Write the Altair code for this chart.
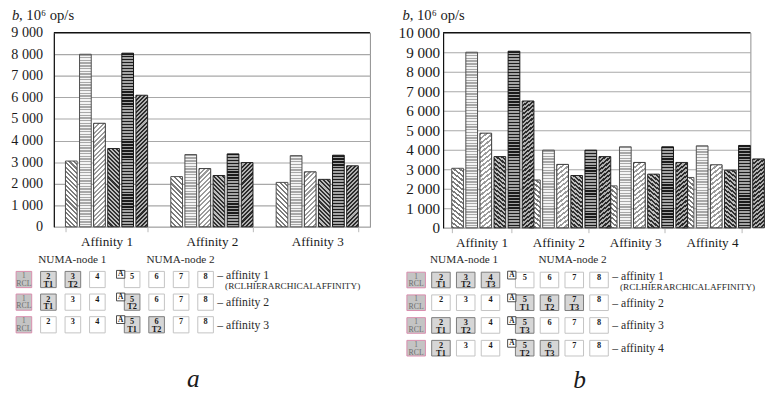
import math
import altair as alt
import pandas as pd

SERIF = "Liberation Serif, serif"
INK = "#1a1a1a"

# ---------------- panel a: bar data ----------------
cats_a = ["Affinity 1", "Affinity 2", "Affinity 3"]
s1_a = [3050, 2330, 2060]
s2_a = [8000, 3350, 3300]
s3_a = [4800, 2700, 2550]
s4_a = [3630, 2380, 2200]
s5_a = [8050, 3380, 3320]
s6_a = [6100, 2980, 2830]
yticks_a = [0, 1000, 2000, 3000, 4000, 5000, 6000, 7000, 8000, 9000]

# ---------------- panel b: bar data ----------------
cats_b = ["Affinity 1", "Affinity 2", "Affinity 3", "Affinity 4"]
s1_b = [3050, 2450, 2150, 2580]
s2_b = [9000, 3980, 4150, 4200]
s3_b = [4850, 3250, 3350, 3230]
s4_b = [3650, 2680, 2750, 2950]
s5_b = [9050, 3980, 4150, 4220]
s6_b = [6500, 3650, 3350, 3530]
yticks_b = [0, 1000, 2000, 3000, 4000, 5000, 6000, 7000, 8000, 9000, 10000]

series_names = ["s1", "s2", "s3", "s4", "s5", "s6"]

# ---------------- NUMA diagrams ----------------
cpus = [1, 2, 3, 4, 5, 6, 7, 8]
cpu_node = [1, 1, 1, 1, 2, 2, 2, 2]
node_titles = ["NUMA-node 1", "NUMA-node 2"]

threads_a1 = ["RCL", "T1", "T2", "", "", "", "", ""]
threads_a2 = ["RCL", "T1", "", "", "T2", "", "", ""]
threads_a3 = ["RCL", "", "", "", "T1", "T2", "", ""]
a_marker_a = [5, 5, 5]
labels_a = ["– affinity 1", "– affinity 2", "– affinity 3"]

threads_b1 = ["RCL", "T1", "T2", "T3", "", "", "", ""]
threads_b2 = ["RCL", "", "", "", "T1", "T2", "T3", ""]
threads_b3 = ["RCL", "T1", "T2", "", "T3", "", "", ""]
threads_b4 = ["RCL", "T1", "", "", "T2", "T3", "", ""]
a_marker_b = [5, 5, 5, 5]
labels_b = ["– affinity 1", "– affinity 2", "– affinity 3", "– affinity 4"]

affinity1_note = "(RCLHIERARCHICALAFFINITY)"
y_unit = ", 10⁶ op/s"

# ---------------- styles ----------------
PATTERNS = {
    "s1": dict(kind="back", bg="#ffffff", fg="#7c7c7c", period=3.4, duty=0.45, stroke="#4d4d4d"),
    "s2": dict(kind="horiz", bg="#f3f3f3", fg="#a8a8a8", period=2.8, duty=0.5, stroke="#4d4d4d"),
    "s3": dict(kind="fwd", bg="#ffffff", fg="#9c9c9c", period=3.4, duty=0.45, stroke="#333333"),
    "s4": dict(kind="back", bg="#bdbdbd", fg="#323232", period=3.0, duty=0.5, stroke="#222222"),
    "s5": dict(kind="horiz", bg="#a4a4a4", fg="#1c1c1c", period=3.0, duty=0.45, stroke="#111111"),
    "s6": dict(kind="fwd", bg="#b0b0b0", fg="#2b2b2b", period=3.0, duty=0.5, stroke="#222222"),
}


def make_gradient(p, w, h):
    if p["kind"] == "horiz":
        n = max(1, round(h / p["period"]))
        coords = dict(x1=0, y1=0, x2=0, y2=1)
    else:
        n = max(1, round((w + h) / (math.sqrt(2) * p["period"])))
        k = (w + h) / (w * w + h * h)
        if p["kind"] == "back":
            coords = dict(x1=0, y1=1, x2=k * w, y2=1 - k * h)
        else:
            coords = dict(x1=0, y1=0, x2=k * w, y2=k * h)
    stops = []
    for i in range(n):
        a = round(i / n, 5)
        b = round((i + p["duty"]) / n, 5)
        c = round((i + 1) / n, 5)
        stops += [
            alt.GradientStop(offset=a, color=p["fg"]),
            alt.GradientStop(offset=b, color=p["fg"]),
            alt.GradientStop(offset=b, color=p["bg"]),
            alt.GradientStop(offset=c, color=p["bg"]),
        ]
    return alt.LinearGradient(gradient="linear", stops=stops, **coords)


def panel(cats, series_vals, yticks, lay, threads_rows, a_marker, aff_labels, letter):
    W, H = lay["W"], lay["H"]
    ymax = yticks[-1]
    rows = []
    for s, vals in zip(series_names, series_vals):
        for c, v in zip(cats, vals):
            rows.append({"cat": c, "series": s, "value": v})
    df = pd.DataFrame(rows)

    pin, pout, oin = lay["pin"], lay["pout"], lay["oin"]
    step = W / (len(cats) - pin + 2 * pout)
    band = step * (1 - pin)
    bw = band / (len(series_names) - oin) * (1 - oin)

    xs = alt.Scale(domain=cats, paddingInner=pin, paddingOuter=pout)
    xos = alt.Scale(domain=series_names, paddingInner=oin, paddingOuter=0)
    ys = alt.Scale(domain=[0, ymax], nice=False, zero=True)
    x_axis = alt.Axis(title=None, labelFont=SERIF, labelFontSize=13.5, labelColor=INK,
                      labelAngle=0, tickBand="extent", ticks=True, tickSize=5,
                      tickColor="#b8b8b8", domainColor="#b8b8b8", labelPadding=3, grid=False)
    y_axis = alt.Axis(values=yticks, labelExpr="replace(format(datum.value, ','), ',', ' ')",
                      labelFont=SERIF, labelFontSize=lay["ylab"], labelColor=INK,
                      labelPadding=lay["ypad"], ticks=False, tickSize=0,
                      domainColor="#111111", domainWidth=1.2,
                      grid=True, gridColor="#a8a8a8", gridWidth=1.1,
                      title="b", titleFont=SERIF, titleFontStyle="italic", titleFontSize=15,
                      titleFontWeight="normal", titleAngle=0, titleAlign="left",
                      titleBaseline="alphabetic", titleX=lay["tx"], titleY=lay["ty"],
                      titleColor=INK)

    bar_layers = []
    for s, vals in zip(series_names, series_vals):
        p = PATTERNS[s]
        for c, v in zip(cats, vals):
            h = v / ymax * H
            bar_layers.append(
                alt.Chart(df)
                .transform_filter((alt.datum.cat == c) & (alt.datum.series == s))
                .mark_bar(fill=make_gradient(p, bw, h), stroke=p["stroke"], strokeWidth=1)
                .encode(
                    x=alt.X("cat:N", scale=xs, axis=x_axis),
                    xOffset=alt.XOffset("series:N", scale=xos),
                    y=alt.Y("value:Q", scale=ys, axis=y_axis),
                )
            )
    top_rule = (
        alt.Chart(pd.DataFrame({"value": [ymax]}))
        .mark_rule(color="#111111", strokeWidth=1.2)
        .encode(y=alt.Y("value:Q", scale=ys, axis=y_axis))
    )
    bars = alt.layer(*bar_layers, top_rule)

    # ---- diagram ----
    g = lay["dg"]
    slot_px, xr0, gap, row_px, yr0 = g["slot_px"], g["xr0"], g["gap"], g["row_px"], g["yr0"]
    hw_px, hh_px = g["hw"], g["hh"]
    hw, hh = hw_px / slot_px, hh_px / row_px
    nrows = len(threads_rows)
    cells, aboxes = [], []
    for r, threads in enumerate(threads_rows, start=1):
        for cpu, node, t in zip(cpus, cpu_node, threads):
            slot = cpu + gap * (node - 1)
            kind = "rcl" if t == "RCL" else ("busy" if t else "free")
            cells.append(dict(row=r, num=str(cpu), thr=t, kind=kind, slot=slot,
                              x0=slot - hw, x1=slot + hw, y0=r - hh, y1=r + hh))
        acpu = a_marker[r - 1]
        sa = acpu + gap * (cpu_node[acpu - 1] - 1)
        ax0 = sa - hw - 8.0 / slot_px
        ax1 = sa - hw + 0.5 / slot_px
        ay0 = r - hh - 1.0 / row_px
        ay1 = r - hh + 7.0 / row_px
        aboxes.append(dict(row=r, x0=ax0, x1=ax1, y0=ay0, y1=ay1,
                           xc=(ax0 + ax1) / 2, yc=(ay0 + ay1) / 2, t="A"))
    cells_df = pd.DataFrame(cells)
    abox_df = pd.DataFrame(aboxes)
    hdr_df = pd.DataFrame({
        "t": node_titles,
        "slot": [sum(c + gap * (n - 1) for c, n in zip(cpus, cpu_node) if n == k) / 4 for k in (1, 2)],
        "row": [1, 1],
    })
    lab_df = pd.DataFrame({"t": aff_labels, "row": list(range(1, nrows + 1)),
                           "slot": [8 + gap] * nrows})
    note_df = pd.DataFrame({"t": [affinity1_note], "row": [1], "slot": [8 + gap]})

    dxs = alt.Scale(domain=[0, 10], range=[xr0, xr0 + 10 * slot_px], nice=False, zero=False)
    dys = alt.Scale(domain=[1, nrows + 1], range=[yr0, yr0 + nrows * row_px], nice=False, zero=False)
    dax = alt.Axis(orient="top", labels=False, ticks=False, domain=False, grid=False,
                   title=y_unit, titleFont=SERIF, titleFontSize=15, titleFontWeight="normal",
                   titleAlign="left", titleBaseline="alphabetic", titleAnchor="start",
                   titleX=lay["tx"] + 7.3, titleY=lay["ty"], titleColor=INK, titleAngle=0)

    def DX(f):
        return alt.X(f, type="quantitative", scale=dxs, axis=dax)

    def DY(f):
        return alt.Y(f, type="quantitative", scale=dys, axis=None)

    cell_layer = alt.Chart(cells_df).mark_rect(strokeWidth=1).encode(
        x=DX("x0"), x2=alt.X2("x1"), y=DY("y0"), y2=alt.Y2("y1"),
        fill=alt.Fill("kind:N", scale=alt.Scale(domain=["rcl", "busy", "free"],
                                                range=["#c4c4c4", "#d6d6d6", "#ffffff"]), legend=None),
        stroke=alt.Stroke("kind:N", scale=alt.Scale(domain=["rcl", "busy", "free"],
                                                    range=["#d98cad", "#7a7a7a", "#c2c2c2"]), legend=None),
    )
    num_layer = alt.Chart(cells_df).transform_filter(alt.datum.kind != "rcl").mark_text(
        font=SERIF, fontSize=8.5, fontWeight="bold", color=INK, dy=-3.5, baseline="middle"
    ).encode(x=DX("slot"), y=DY("row"), text="num:N")
    thr_layer = alt.Chart(cells_df).transform_filter(alt.datum.kind == "busy").mark_text(
        font=SERIF, fontSize=8.5, fontWeight="bold", color=INK, dy=4.5, baseline="middle"
    ).encode(x=DX("slot"), y=DY("row"), text="thr:N")
    rnum_layer = alt.Chart(cells_df).transform_filter(alt.datum.kind == "rcl").mark_text(
        font=SERIF, fontSize=7.5, color="#6e6e6e", dy=-3.5, baseline="middle"
    ).encode(x=DX("slot"), y=DY("row"), text="num:N")
    rcl_layer = alt.Chart(cells_df).transform_filter(alt.datum.kind == "rcl").mark_text(
        font=SERIF, fontSize=8, color="#6e6e6e", dy=4.5, baseline="middle"
    ).encode(x=DX("slot"), y=DY("row"), text="thr:N")
    abox_layer = alt.Chart(abox_df).mark_rect(fill="#ffffff", stroke="#333333", strokeWidth=0.9).encode(
        x=DX("x0"), x2=alt.X2("x1"), y=DY("y0"), y2=alt.Y2("y1"))
    atext_layer = alt.Chart(abox_df).mark_text(
        font=SERIF, fontSize=7.5, fontWeight="bold", color=INK, baseline="middle"
    ).encode(x=DX("xc"), y=DY("yc"), text="t:N")
    hdr_layer = alt.Chart(hdr_df).mark_text(
        font=SERIF, fontSize=11.5, color="#2a2a2a", dy=-20, dx=g["hdx"], baseline="middle"
    ).encode(x=DX("slot"), y=DY("row"), text="t:N")
    lab1_layer = alt.Chart(lab_df).transform_filter(alt.datum.row == 1).mark_text(
        font=SERIF, fontSize=12, color="#2a2a2a", align="left", dx=hw_px + 4, dy=-4.5, baseline="middle"
    ).encode(x=DX("slot"), y=DY("row"), text="t:N")
    labn_layer = alt.Chart(lab_df).transform_filter(alt.datum.row > 1).mark_text(
        font=SERIF, fontSize=12, color="#2a2a2a", align="left", dx=hw_px + 4, baseline="middle"
    ).encode(x=DX("slot"), y=DY("row"), text="t:N")
    note_layer = alt.Chart(note_df).mark_text(
        font=SERIF, fontSize=9.5, color="#2a2a2a", align="left", dx=hw_px + 12, dy=7, baseline="middle"
    ).encode(x=DX("slot"), y=DY("row"), text="t:N")

    diag = alt.layer(cell_layer, num_layer, thr_layer, rnum_layer, rcl_layer,
                     abox_layer, atext_layer, hdr_layer, lab1_layer, labn_layer, note_layer)

    return alt.layer(bars, diag).resolve_scale(x="independent", y="independent").properties(
        width=W, height=H,
        title=alt.TitleParams(letter, orient="bottom", anchor="middle", frame="group",
                              font=SERIF, fontStyle="italic", fontSize=26, fontWeight="normal",
                              offset=lay["loff"], dx=lay["ldx"], color=INK),
    )


lay_a = dict(W=324, H=199, pin=0.22, pout=0.11, oin=0.17, ylab=14.5, ypad=11.5,
             tx=-43.5, ty=-13.5, loff=34, ldx=-19,
             dg=dict(slot_px=25.1, xr0=-55.8, gap=0.42, row_px=23.2, yr0=253, hw=8, hh=8.3, hdx=12))
lay_b = dict(W=315, H=200, pin=0.225, pout=0.1125, oin=0.1, ylab=15.5, ypad=3.5,
             tx=-42, ty=-13.5, loff=10.5, ldx=-17.5,
             dg=dict(slot_px=25.4, xr0=-53, gap=0.38, row_px=23.3, yr0=253.5, hw=9.5, hh=8, hdx=11))

left = panel(cats_a, [s1_a, s2_a, s3_a, s4_a, s5_a, s6_a], yticks_a, lay_a,
             [threads_a1, threads_a2, threads_a3], a_marker_a, labels_a, "a")
right = panel(cats_b, [s1_b, s2_b, s3_b, s4_b, s5_b, s6_b], yticks_b, lay_b,
              [threads_b1, threads_b2, threads_b3, threads_b4], a_marker_b, labels_b, "b")

chart = (
    alt.hconcat(left, right, spacing=26)
    .properties(padding={"left": 2, "top": -5.5, "right": 0, "bottom": -6.5}, background="white")
    .configure_view(stroke="#8c8c8c", strokeWidth=1)
)

chart.save("out.html", embed_options={"renderer": "svg", "actions": False})
